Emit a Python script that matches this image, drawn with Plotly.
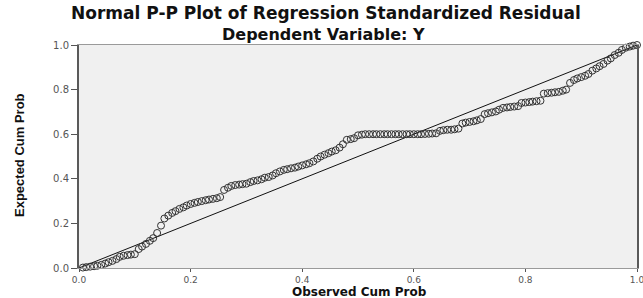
import plotly.graph_objects as go

# Observed cumulative probabilities (x) and expected cumulative probabilities (y)
observed = [
    0.007, 0.013, 0.020, 0.027, 0.033, 0.040, 0.047, 0.053, 0.060, 0.067,
    0.073, 0.080, 0.087, 0.093, 0.100, 0.107, 0.113, 0.120, 0.127, 0.133,
    0.140, 0.147, 0.153, 0.160, 0.167, 0.173, 0.180, 0.187, 0.193, 0.200,
    0.207, 0.213, 0.220, 0.227, 0.233, 0.240, 0.247, 0.253, 0.260, 0.267,
    0.273, 0.280, 0.287, 0.293, 0.300, 0.307, 0.313, 0.320, 0.327, 0.333,
    0.340, 0.347, 0.353, 0.360, 0.367, 0.373, 0.380, 0.387, 0.393, 0.400,
    0.407, 0.413, 0.420, 0.427, 0.433, 0.440, 0.447, 0.453, 0.460, 0.467,
    0.473, 0.480, 0.487, 0.493, 0.500, 0.507, 0.513, 0.520, 0.527, 0.533,
    0.540, 0.547, 0.553, 0.560, 0.567, 0.573, 0.580, 0.587, 0.593, 0.600,
    0.607, 0.613, 0.620, 0.627, 0.633, 0.640, 0.647, 0.653, 0.660, 0.667,
    0.673, 0.680, 0.687, 0.693, 0.700, 0.707, 0.713, 0.720, 0.727, 0.733,
    0.740, 0.747, 0.753, 0.760, 0.767, 0.773, 0.780, 0.787, 0.793, 0.800,
    0.807, 0.813, 0.820, 0.827, 0.833, 0.840, 0.847, 0.853, 0.860, 0.867,
    0.873, 0.880, 0.887, 0.893, 0.900, 0.907, 0.913, 0.920, 0.927, 0.933,
    0.940, 0.947, 0.953, 0.960, 0.967, 0.973, 0.980, 0.987, 0.993, 1.000,
]
expected = [
    0.002, 0.004, 0.006, 0.008, 0.010, 0.014, 0.020, 0.026, 0.032, 0.040,
    0.050, 0.055, 0.058, 0.060, 0.062, 0.085, 0.096, 0.108, 0.122, 0.134,
    0.157, 0.190, 0.222, 0.235, 0.247, 0.255, 0.265, 0.272, 0.280, 0.287,
    0.292, 0.296, 0.300, 0.304, 0.307, 0.310, 0.313, 0.318, 0.350, 0.360,
    0.368, 0.372, 0.374, 0.376, 0.378, 0.385, 0.390, 0.393, 0.398, 0.405,
    0.408, 0.415, 0.425, 0.433, 0.440, 0.443, 0.447, 0.450, 0.455, 0.460,
    0.465, 0.470, 0.478, 0.490, 0.500, 0.508, 0.515, 0.522, 0.528, 0.540,
    0.555, 0.575, 0.578, 0.582, 0.595, 0.598, 0.600, 0.600, 0.600, 0.600,
    0.600, 0.600, 0.600, 0.600, 0.600, 0.600, 0.600, 0.600, 0.600, 0.600,
    0.600, 0.600, 0.601, 0.602, 0.603, 0.604, 0.615, 0.618, 0.620, 0.620,
    0.622, 0.625, 0.648, 0.652, 0.655, 0.658, 0.662, 0.668, 0.690, 0.694,
    0.698, 0.702, 0.710, 0.718, 0.720, 0.722, 0.724, 0.726, 0.740, 0.742,
    0.744, 0.746, 0.748, 0.750, 0.782, 0.784, 0.786, 0.788, 0.790, 0.795,
    0.800, 0.830, 0.843, 0.850, 0.856, 0.862, 0.870, 0.885, 0.895, 0.905,
    0.915, 0.930, 0.940, 0.955, 0.965, 0.978, 0.988, 0.993, 0.997, 1.000,
]
ref_line = [0.0, 1.0]
tick_vals = [0.0, 0.2, 0.4, 0.6, 0.8, 1.0]
tick_text = ["0.0", "0.2", "0.4", "0.6", "0.8", "1.0"]

title_main = "Normal P-P Plot of Regression Standardized Residual"
title_sub = "Dependent Variable: Y"
x_title = "Observed Cum Prob"
y_title = "Expected Cum Prob"

fig = go.Figure()
fig.add_trace(go.Scatter(
    x=ref_line, y=ref_line, mode="lines",
    line=dict(color="#111111", width=1), hoverinfo="skip", showlegend=False,
))
fig.add_trace(go.Scatter(
    x=observed, y=expected, mode="markers",
    marker=dict(symbol="circle-open", size=7, color="#333333", line=dict(width=1, color="#333333")),
    cliponaxis=False, showlegend=False,
))

L, R, T, B = 79, 6, 45, 30
W, H = 643, 298
ph = H - T - B
pw = W - L - R

fig.update_layout(
    width=W, height=H,
    margin=dict(l=L, r=R, t=T, b=B, pad=0, autoexpand=False),
    paper_bgcolor="white",
    plot_bgcolor="#f0f0f0",
    font=dict(family="DejaVu Sans", color="#444444"),
    xaxis=dict(
        range=[0, 1], tickvals=tick_vals, ticktext=tick_text, automargin=False,
        showgrid=False, zeroline=False, ticklabeloverflow="allow",
        showline=True, linecolor="#9a9a9a", linewidth=1, mirror=True,
        ticks="outside", ticklen=3, tickcolor="#555555", tickwidth=1,
        tickfont=dict(family="DejaVu Sans", size=9, color="#555555"),
    ),
    yaxis=dict(
        range=[0, 1], tickvals=tick_vals, ticktext=tick_text, automargin=False,
        showgrid=False, zeroline=False,
        showline=True, linecolor="#5a5a5a", linewidth=2, mirror=True,
        ticks="outside", ticklen=6, tickcolor="#555555", tickwidth=1,
        tickfont=dict(family="DejaVu Sans", size=10, color="#555555"),
    ),
    annotations=[
        dict(text="<b>" + title_main + "</b>", xref="paper", yref="paper",
             x=(326 - L) / pw, y=1 + (T - 13) / ph, xanchor="center", yanchor="middle",
             showarrow=False, font=dict(family="DejaVu Sans", size=17, color="#111111")),
        dict(text="<b>" + title_sub + "</b>", xref="paper", yref="paper",
             x=(323 - L) / pw, y=1 + (T - 34) / ph, xanchor="center", yanchor="middle",
             showarrow=False, font=dict(family="DejaVu Sans", size=16, color="#111111")),
        dict(text="<b>" + x_title + "</b>", xref="paper", yref="paper",
             x=(359 - L) / pw, y=-(292 - (H - B)) / ph, xanchor="center", yanchor="middle",
             borderpad=0,
             showarrow=False, font=dict(family="DejaVu Sans", size=12, color="#111111")),
        dict(text="<b>" + y_title + "</b>", xref="paper", yref="paper",
             x=(19 - L) / pw, y=(H - B - 155) / ph, xanchor="center", yanchor="middle",
             textangle=-90,
             showarrow=False, font=dict(family="Liberation Sans Narrow, Liberation Sans", size=13, color="#111111")),
    ],
)

fig.write_html("out.html", config={"displayModeBar": False},
               post_script="document.body.style.margin='0';document.body.style.overflow='hidden';")
